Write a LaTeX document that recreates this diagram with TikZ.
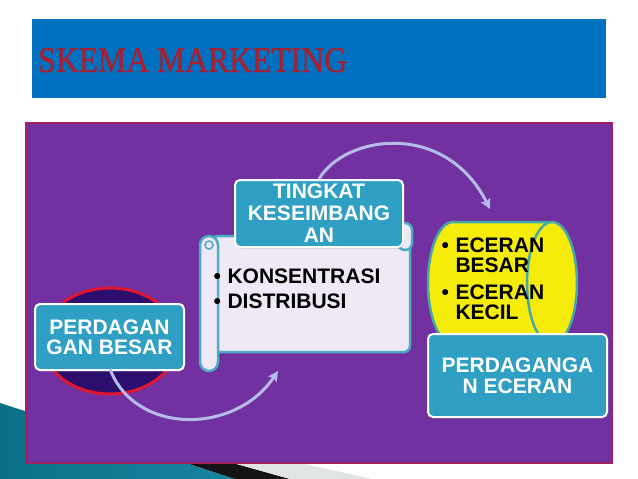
\documentclass[tikz,border=0pt]{standalone}
\usepackage{fontspec}
\setmainfont{Liberation Sans}
\newfontfamily\titlefont[FakeBold=1.2]{Liberation Serif}
\usetikzlibrary{arrows.meta,positioning,shadows}
\definecolor{barblue}{HTML}{0070C0}
\definecolor{titlered}{HTML}{A81F30}
\definecolor{panelpurple}{HTML}{7131A1}
\definecolor{panelborder}{HTML}{A3205E}
\definecolor{boxteal}{HTML}{2F9FC3}
\definecolor{arrowlav}{HTML}{B6BCE8}
\definecolor{scrollfill}{HTML}{EEE9F4}
\definecolor{scrollline}{HTML}{4BACC6}
\definecolor{cylyellow}{HTML}{F5EC0C}
\definecolor{cylline}{HTML}{45A9A8}
\definecolor{ovalfill}{HTML}{2C0E6E}
\definecolor{ovalred}{HTML}{E0152E}
\definecolor{decodark}{HTML}{0B6F88}
\definecolor{decolight}{HTML}{52BAD6}
\definecolor{decomid}{HTML}{16869F}
\newcommand\boxfont{\fontsize{21}{20}\selectfont\bfseries}

\begin{document}
\begin{tikzpicture}[x=1pt, y=-1pt,
    tealbox/.style={draw=white, line width=2pt, fill=boxteal, rounded corners=5pt,
      text=white, align=center, inner sep=0pt, font=\boxfont,
      drop shadow={opacity=0.35, shadow xshift=1pt, shadow yshift=-1.5pt}},
    flowarrow/.style={draw=arrowlav, line width=3pt,
      -{Stealth[length=10pt, width=10pt, inset=2pt]}},
    listtext/.style={anchor=base west, inner sep=0pt, font=\boxfont, text=black}]
  \useasboundingbox (0,0) rectangle (638,479);
  % bottom left decoration
  \shade[left color=decodark, middle color=decolight, right color=decomid]
    (0,403) -- (235,479) -- (0,479) -- cycle;
  \fill[black!92] (186,463) -- (233,463) -- (290,479) -- (235,479) -- cycle;
  \fill[cyan!8!gray!25] (233,463) -- (300,463) -- (372,479) -- (290,479) -- cycle;
  % title
  \fill[barblue] (32,19) rectangle (606,98);
  \node[anchor=base west, inner sep=0pt, text=titlered] (title) at (38,72)
    {\scalebox{0.88}[1]{\titlefont\fontsize{36}{36}\selectfont SKEMA MARKETING}};
  % panel
  \draw[draw=panelborder, line width=1.5pt, fill=panelpurple] (26,123) rectangle (612,463);
  % wholesale
  \draw[draw=ovalred, line width=3pt, fill=ovalfill] (110,341) ellipse [x radius=68, y radius=53];
  \coordinate (tipB) at (278,371);
  \node[tealbox, minimum width=149pt, minimum height=66pt] (grosir) at (109.5,337)
    {PERDAGAN\\GAN BESAR};
  \draw[flowarrow] (110,369) .. controls (135,435) and (235,435) .. (tipB);
  % scroll
  \draw[draw=scrollline, line width=2.5pt, fill=scrollfill, rounded corners=6pt]
    (212,236) rectangle (410,352);
  \draw[draw=scrollline, line width=2.5pt, fill=scrollfill, rounded corners=7pt]
    (398,223) rectangle (412,250);
  \draw[draw=scrollline, line width=2.5pt, fill=scrollfill, rounded corners=9pt]
    (200,236) rectangle (218,371);
  \draw[draw=scrollline, line width=1.5pt] (209,245) circle [radius=4];
  \node[listtext] (faktor) at (213.5,283)
    {\begin{tabular}[t]{@{}l@{\hspace{6.5pt}}l@{}}
      \textbullet & KONSENTRASI\\[5pt]
      \textbullet & DISTRIBUSI
    \end{tabular}};
  \node[tealbox, minimum width=168pt, minimum height=67pt, font=\fontsize{21}{22}\selectfont\bfseries]
    (imbang) at (319,213.5) {TINGKAT\\KESEIMBANG\\AN};
  % retail
  \coordinate (tipA) at (490,209);
  \draw[flowarrow] (imbang.north) .. controls (345,135) and (445,120) .. (tipA);
  \fill[cylyellow] (453,222) rectangle (552,344);
  \draw[draw=cylline, line width=2.5pt, fill=cylyellow]
    (552,222) -- (453,222) arc[start angle=270, end angle=90, x radius=25, y radius=61]
    -- (552,344);
  \draw[draw=cylline, line width=2.5pt, fill=cylyellow] (552,283) ellipse [x radius=25, y radius=61];
  \node[listtext] (jenis) at (441.5,252)
    {\begin{tabular}[t]{@{}l@{\hspace{6.5pt}}l@{}}
      \textbullet & ECERAN\\
                  & BESAR\\[6pt]
      \textbullet & ECERAN\\
                  & KECIL
    \end{tabular}};
  \node[tealbox, minimum width=179pt, minimum height=83pt, font=\fontsize{21}{21}\selectfont\bfseries]
    (eceran) at (517.5,375.5) {PERDAGANGA\\N ECERAN};
\end{tikzpicture}
\end{document}
